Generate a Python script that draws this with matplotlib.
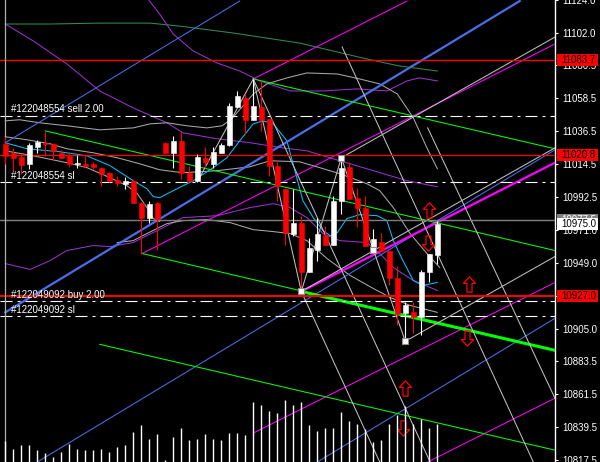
import numpy as np
import matplotlib
matplotlib.use("Agg")
import matplotlib.pyplot as plt
import matplotlib.transforms as mtransforms
from matplotlib.patches import Rectangle
from matplotlib.path import Path

plt.rcParams['font.family'] = ['Liberation Sans', 'DejaVu Sans']

# ---- candles (bar index = position in list) ----
opens = [11028.2, 11022.2, 11019.6, 11014.9, 11026.2, 11028.9, 11028.2, 11022.2, 11020.2, 11014.9,
         11014.9, 11014.9, 11012.2, 11008.9, 11004.3, 11001.6, 11003.6, 10989.0, 10979.0, 10989.0,
         11028.9, 11022.2, 11030.2, 11008.9, 11003.6, 11018.9, 11014.9, 11022.2, 11027.5, 11052.8,
         11058.8, 11044.2, 11052.8, 11044.8, 11013.6, 10998.3, 10968.4, 10975.7, 10942.5, 10957.7,
         10967.7, 10961.1, 10990.3, 11012.9, 10992.3, 10985.7, 10959.1, 10963.1, 10957.1, 10939.1,
         10915.2, 10915.9, 10912.6, 10943.1, 10953.8]
highs = [11032.9, 11025.5, 11021.6, 11028.9, 11030.9, 11036.8, 11028.9, 11024.2, 11022.9, 11020.9,
         11020.9, 11016.2, 11012.9, 11009.5, 11006.9, 11006.2, 11004.9, 10989.6, 10990.3, 10989.6,
         11029.5, 11033.5, 11036.2, 11013.6, 11021.6, 11026.2, 11026.2, 11028.9, 11055.4, 11063.4,
         11061.4, 11071.4, 11070.1, 11044.8, 11017.6, 10999.0, 10998.3, 10980.3, 10965.7, 10979.0,
         10973.7, 10993.6, 11018.9, 11016.2, 10999.0, 10993.6, 10971.7, 10969.0, 10957.1, 10947.1,
         10922.5, 10922.5, 10943.8, 10955.1, 10977.0]
lows = [11014.9, 11010.3, 11008.3, 11011.6, 11022.2, 11020.2, 11017.6, 11018.9, 11012.9, 11012.2,
        11012.9, 11011.6, 11000.3, 11002.9, 11000.3, 10998.3, 10989.0, 10955.1, 10975.7, 10957.7,
        11022.2, 11012.2, 11004.9, 11003.6, 11002.9, 11012.2, 11012.2, 11022.2, 11026.9, 11052.8,
        11034.9, 11044.2, 11036.8, 11006.9, 10990.3, 10961.1, 10967.1, 10930.5, 10942.5, 10950.4,
        10961.1, 10961.1, 10981.7, 10991.6, 10973.0, 10960.4, 10959.1, 10957.1, 10933.8, 10907.2,
        10896.6, 10901.9, 10900.6, 10935.8, 10948.4]
closes = [11020.2, 11018.9, 11014.2, 11027.5, 11029.5, 11028.2, 11023.5, 11018.9, 11014.9, 11015.5,
          11013.6, 11012.9, 11008.3, 11003.6, 11002.3, 11003.6, 10989.0, 10979.0, 10988.3, 10978.4,
          11022.2, 11030.2, 11008.9, 11003.6, 11019.6, 11016.2, 11022.9, 11027.5, 11053.5, 11060.1,
          11044.2, 11053.5, 11044.2, 11013.6, 11000.3, 10969.0, 10975.7, 10943.1, 10959.1, 10968.4,
          10961.1, 10990.3, 11012.2, 10991.6, 10985.7, 10960.4, 10965.1, 10957.1, 10939.1, 10914.5,
          10920.5, 10912.6, 10943.1, 10955.1, 10975.0]
volumes = [21, 13, 17, 17, 12, 9, 5, 10, 18, 13, 12, 12, 13, 10, 15, 17, 30, 37, 23, 28,
           2, 25, 34, 22, 23, 28, 23, 22, 29, 29, 27, 60, 57, 51, 49, 62, 57, 60, 37, 31,
           34, 34, 50, 41, 38, 33, 20, 22, 38, 47, 56, 38, 43, 34, 38]

# ---- indicator curves (bar, price) ----
ma_x = [0, 2.7, 6.8, 10.2, 13.1, 16.0, 17.7, 18.5, 19.3, 21.0, 23.5, 26.0, 27.7, 29.3, 31.0, 32.2, 33.5,
        35.2, 36.2, 37.2, 38.5, 39.7, 40.6, 41.5, 42.7, 44.3, 46.5, 47.7, 48.5, 49.7, 51.0, 52.2, 54.0]
ma_y = [11028.9, 11024.9, 11022.9, 11020.2, 11013.6, 11003.6, 10998.3, 10993.0, 10992.3, 10997.0, 11003.6,
        11012.3, 11018.9, 11030.2, 11041.5, 11043.5, 11041.5, 11030.2, 11010.3, 10990.3, 10979.0, 10970.4,
        10967.0, 10969.0, 10978.4, 10981.0, 10980.3, 10977.0, 10963.7, 10950.4, 10937.1, 10933.8, 10935.8]

bbu_x = [0, 1.8, 4.3, 7.7, 11.8, 16.0, 18.1, 20.2, 22.7, 25.2, 27.1, 28.3, 31.0, 32.7, 35.2, 37.7, 41.5,
         44.3, 46.8, 49.0, 51.0, 52.7, 54.0]
bbu_y = [11043.5, 11044.2, 11042.2, 11040.2, 11037.5, 11038.8, 11041.5, 11042.2, 11040.2, 11038.8, 11040.2,
         11044.8, 11061.4, 11068.1, 11072.1, 11075.4, 11074.7, 11071.4, 11068.1, 11061.4, 11045.5, 11025.5,
         11011.6]
bbm_x = [0, 2.7, 5.6, 7.7, 11.0, 14.0, 16.8, 19.3, 22.2, 26.5, 30.6, 33.1, 36.8, 39.3, 41.8, 45.2, 46.8,
         48.5, 50.6, 52.7, 54.3]
bbm_y = [11032.9, 11030.9, 11028.2, 11024.9, 11022.2, 11018.9, 11014.9, 11010.9, 11008.9, 11010.3, 11012.9,
         11016.9, 11016.2, 11012.3, 11008.3, 11001.6, 10997.0, 10985.7, 10968.4, 10955.1, 10945.8]
bbl_x = [14.0, 16.0, 17.7, 20.2, 22.2, 25.2, 28.1, 31.0, 33.5, 35.6, 37.7, 40.2, 43.1, 46.0, 48.1, 50.6, 54.0]
bbl_y = [10962.4, 10963.7, 10968.4, 10975.0, 10977.0, 10977.7, 10975.7, 10971.0, 10969.7, 10968.4, 10963.7,
         10951.8, 10940.5, 10931.8, 10925.8, 10920.5, 10915.9]
fast_x = [0, 3.5, 7.7, 10.2, 13.1, 15.2, 16.5, 17.7, 18.5, 19.3]
fast_y = [11023.5, 11020.2, 11015.6, 11012.3, 11005.6, 11000.3, 10995.0, 10985.7, 10978.4, 10976.4]

p1_x = [17.5, 19.3, 21.0, 23.5, 26.5, 29.3, 31.8, 35.6, 39.7, 44.0, 47.7, 50.2, 51.8, 54.0]
p1_y = [11127.0, 11114.6, 11101.3, 11090.0, 11082.0, 11076.7, 11070.1, 11063.4, 11063.4, 11064.8, 11063.4,
        11070.1, 11072.1, 11070.1]
p2_x = [0, 3.5, 7.7, 11.8, 16.0, 20.2, 22.2, 26.5, 30.6, 34.7, 37.7, 41.8, 46.0, 50.2, 54.0]
p2_y = [11108.0, 11096.7, 11081.4, 11063.4, 11052.1, 11042.2, 11035.5, 11031.5, 11028.9, 11025.5, 11023.5,
        11016.9, 11010.3, 11003.6, 10999.6]
p3_x = [0, 3.1, 5.6, 7.7, 11.0, 13.1, 16.0, 17.7, 19.0, 22.2, 26.5, 30.6, 33.5, 35.6, 37.7, 39.7, 41.8,
        45.2, 46.8, 48.5, 51.0, 54.0]
p3_y = [10948.4, 10944.5, 10950.4, 10957.1, 10960.4, 10959.7, 10962.4, 10967.1, 10970.4, 10979.0, 10980.3,
        10985.7, 10988.3, 10985.7, 10979.0, 10968.4, 10963.7, 10962.4, 10955.1, 10945.8, 10937.1, 10930.5]
dg_x = [0, 5.6, 11.8, 18.1, 21.8, 28.5, 36.8, 41.0, 45.2, 49.3, 54.0]
dg_y = [11108.0, 11108.0, 11108.6, 11108.6, 11106.6, 11102.0, 11095.3, 11090.0, 11084.7, 11080.0, 11076.7]

# ---- trend lines: (bar0, price0, bar1, price1) ----
blue_lines = [(0.0, 11028.9, 29.3, 11123.3), (4.0, 10816.2, 68.7, 11024.2), (39.0, 10816.2, 68.7, 10911.9)]
blue_thick = (0.0, 10915.9, 64.3, 11123.3)
magenta_lines = [(31.0, 11071.4, 50.2, 11123.3), (17.1, 10955.1, 68.7, 11094.7),
                 (31.0, 10835.5, 68.7, 10935.8), (52.8, 10816.2, 68.7, 10858.7)]
magenta_thick = (37.0, 10929.8, 68.7, 11015.6)
green_lines = [(31.0, 11071.4, 68.7, 11024.9), (5.0, 11036.8, 68.7, 10957.1),
               (17.1, 10955.1, 68.7, 10890.6), (11.8, 10894.6, 68.7, 10824.1)]
green_thick = (37.0, 10929.8, 68.7, 10890.6)
silver_lines = [(42.0, 11018.9, 68.7, 11099.3), (37.0, 10929.8, 68.7, 11025.5), (50.0, 10896.6, 68.7, 10953.1),
                (42.1, 11092.7, 66.0, 10816.2), (31.0, 11071.4, 53.1, 10816.2), (37.0, 10929.8, 46.8, 10816.2),
                (52.8, 11038.8, 68.7, 10858.7)]
zig_x = [24.0, 31.0, 37.0, 42.0, 46.0, 50.0]
zig_y = [11002.9, 11071.4, 10929.8, 11018.9, 10957.7, 10896.6]
anchor_x = [37.0, 42.0, 46.0, 50.0]
anchor_y = [10929.8, 11018.9, 10957.7, 10896.6]

# ---- horizontal levels ----
red_levels = [11083.7, 11020.8, 10927.0]
gray_level = 10977.5
bid = 10975.0
order_levels = [11046.8, 11002.5, 10923.2, 10913.2]
order_labels = ["#122048554 sell 2.00", "#122048554 sl", "#122049092 buy 2.00", "#122049092 sl"]

arrow_up = [(53.0, 10984.3), (58.0, 10934.5), (50.0, 10865.4)]
arrow_dn = [(52.8, 10961.9), (57.7, 10898.6), (49.7, 10838.8)]

tick_prices = [11124.0, 11102.0, 11080.5, 11058.5, 11036.5, 11014.5, 10992.5, 10971.0, 10949.0,
               10927.0, 10905.0, 10883.5, 10861.5, 10839.5, 10817.5]
tick_labels = ["%.1f" % p for p in tick_prices]

# ---------------------------------------------------------------
fig = plt.figure(figsize=(6, 4.62), dpi=100, facecolor='black')
ax = fig.add_axes([0, 0, 555 / 600, 1], facecolor='black')
ax.set_xlim(-0.66, 68.71)
ax.set_ylim(10816.2, 11123.3)

# volumes on their own overlay
axv = fig.add_axes([0, 0, 555 / 600, 1], sharex=ax)
axv.patch.set_alpha(0)
axv.set_ylim(0, 462)
axv.axis('off')
axv.vlines(np.arange(len(volumes)), 0, volumes, color='white', lw=1.0)

thin = 0.75
# indicators
ax.plot(dg_x, dg_y, color='#2e8b57', lw=thin, zorder=2)
for xs, ys in [(p1_x, p1_y), (p2_x, p2_y), (p3_x, p3_y)]:
    ax.plot(xs, ys, color='#9932cc', lw=thin, zorder=2)
for xs, ys in [(bbu_x, bbu_y), (bbm_x, bbm_y), (bbl_x, bbl_y), (fast_x, fast_y)]:
    ax.plot(xs, ys, color='#a8a8a8', lw=thin, zorder=2)
ax.plot(ma_x, ma_y, color='#00bfff', lw=thin, zorder=3)

# trend objects
for x0, y0, x1, y1 in blue_lines:
    ax.plot([x0, x1], [y0, y1], color='#4a6ee8', lw=thin, zorder=3)
ax.plot(blue_thick[0::2], blue_thick[1::2], color='#4a6ee8', lw=1.6, zorder=3)
for x0, y0, x1, y1 in magenta_lines:
    ax.plot([x0, x1], [y0, y1], color='#ff00ff', lw=thin, zorder=3)
ax.plot(magenta_thick[0::2], magenta_thick[1::2], color='#ff00ff', lw=1.6, zorder=3)
for x0, y0, x1, y1 in green_lines:
    ax.plot([x0, x1], [y0, y1], color='#00ff00', lw=thin, zorder=3)
ax.plot(green_thick[0::2], green_thick[1::2], color='#00ff00', lw=2.2, zorder=3)
for x0, y0, x1, y1 in silver_lines:
    ax.plot([x0, x1], [y0, y1], color='#c0c0c0', lw=thin, zorder=3)
ax.plot(zig_x, zig_y, color='#c0c0c0', lw=thin, zorder=3)

# horizontal lines
ax.axhline(red_levels[0], color='red', lw=1.0, zorder=4)
ax.axhline(red_levels[1], color='red', lw=0.9, zorder=4)
ax.axhline(red_levels[2], color='red', lw=1.4, zorder=4)
ax.axhline(gray_level, color='#808080', lw=1.0, zorder=4)
for lvl, lab in zip(order_levels, order_labels):
    ax.axhline(lvl, color='white', lw=0.8, ls=(0, (10.8, 4.5, 2.7, 4.5)), zorder=4)
    ax.text(0.7, lvl + 1.2, lab, color='white', fontsize=7, va='bottom', ha='left', zorder=10)

# left border
ax.axvline(-0.04, color='#b0b0b0', lw=0.9, zorder=5)

# candles
for i, (o, h, l, c) in enumerate(zip(opens, highs, lows, closes)):
    col = 'white' if c >= o else 'red'
    ax.vlines(i, l, h, color=col, lw=0.8, zorder=6)
    ax.add_patch(Rectangle((i - 0.31, min(o, c)), 0.62, max(abs(c - o), 0.7),
                           fc=col, ec=col, lw=0.4, zorder=7))

# arrows
up_path = Path([(0, 1), (0.8, 0.15), (0.33, 0.15), (0.33, -1), (-0.33, -1), (-0.33, 0.15),
                (-0.8, 0.15), (0, 1)], closed=True)
dn_path = Path([(0, -1), (0.8, -0.15), (0.33, -0.15), (0.33, 1), (-0.33, 1), (-0.33, -0.15),
                (-0.8, -0.15), (0, -1)], closed=True)
for x, y in arrow_up:
    ax.plot(x, y, marker=up_path, ms=11, mfc='none', mec='red', mew=0.9, zorder=8)
for x, y in arrow_dn:
    ax.plot(x, y, marker=dn_path, ms=11, mfc='none', mec='red', mew=0.9, zorder=8)

ax.plot(anchor_x, anchor_y, 's', ms=4, mfc='white', mec='#909090', mew=0.8, ls='none', zorder=9)

# price axis
for s in ['left', 'top', 'bottom']:
    ax.spines[s].set_visible(False)
ax.spines['right'].set_color('white')
ax.spines['right'].set_linewidth(1.0)
ax.yaxis.tick_right()
ax.set_yticks(tick_prices)
ax.set_yticklabels(tick_labels)
ax.tick_params(axis='y', colors='white', labelsize=7, length=2.5, width=0.8, pad=3)
ax.tick_params(axis='x', bottom=False, labelbottom=False)

# price tags on the scale
blend = mtransforms.blended_transform_factory(fig.transFigure, ax.transData)
tags = [(gray_level, '#808080', 'white'), (red_levels[0], 'red', 'black'),
        (red_levels[1], 'red', 'black'), (red_levels[2], 'red', 'black'), (bid, 'white', 'black')]
for price, fc, tc in tags:
    fig.add_artist(Rectangle((557 / 600, price - 4.0), 41 / 600, 8.0, transform=blend,
                             fc=fc, ec='none', zorder=20))
    fig.text(561 / 600, price, "%.1f" % price, transform=blend, color=tc, fontsize=7,
             va='center', ha='left', zorder=21)

fig.savefig('out.png', dpi=100, facecolor='black')
